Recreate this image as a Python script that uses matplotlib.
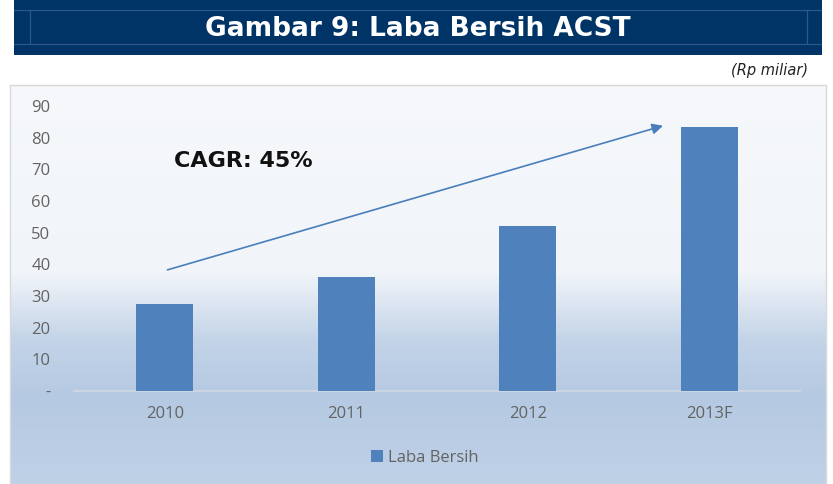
import matplotlib
matplotlib.use('Agg')
import matplotlib.pyplot as plt
import numpy as np
from matplotlib.colors import LinearSegmentedColormap
from matplotlib.patches import Rectangle

years = ['2010', '2011', '2012', '2013F']
laba_bersih = [27.5, 36.0, 52.0, 83.5]
y_ticks = [0, 10, 20, 30, 40, 50, 60, 70, 80, 90]
y_tick_labels = ['-', '10', '20', '30', '40', '50', '60', '70', '80', '90']
cagr_text = 'CAGR: 45%'

W, H = 833, 484
fig = plt.figure(figsize=(W / 100, H / 100), dpi=100)
fig.patch.set_facecolor('white')

# --- header bar ---
hdr = fig.add_axes([14 / W, 1 - 55 / H, (822 - 14) / W, 55 / H])
hdr.set_xlim(0, 808)
hdr.set_ylim(55, 0)
hdr.axis('off')
hdr.add_patch(Rectangle((0, 0), 808, 55, color='#003366'))
line_kw = dict(color='#2b5886', linewidth=0.9)
hdr.axhline(10, **line_kw)
hdr.axhline(44, **line_kw)
hdr.plot([16, 16], [10, 44], **line_kw)
hdr.plot([793, 793], [10, 44], **line_kw)
hdr.text(404, 29, 'Gambar 9: Laba Bersih ACST', color='white', fontsize=19,
         fontweight='bold', ha='center', va='center', family='DejaVu Sans')

fig.text(808 / W, 1 - 70 / H, '(Rp miliar)', ha='right', va='center',
         fontsize=10.5, style='italic', color='#222222', family='DejaVu Sans')

# --- chart background box with gradient ---
bg = fig.add_axes([10 / W, 0, (826 - 10) / W, (484 - 85) / H])
cmap = LinearSegmentedColormap.from_list('bg', [
    (0.0, '#bfd1e7'), (0.22, '#b5c9e2'), (0.36, '#c3d4e8'),
    (0.46, '#dfe7f2'), (0.53, '#f1f5f9'), (1.0, '#f6f8fb')])
grad = np.linspace(0, 1, 256).reshape(-1, 1)
bg.imshow(grad, aspect='auto', cmap=cmap, origin='lower', extent=[0, 1, 0, 1])
bg.set_xlim(0, 1)
bg.set_ylim(0, 1)
bg.set_xticks([])
bg.set_yticks([])
for s in bg.spines.values():
    s.set_color('#d9d9d9')
    s.set_linewidth(1)

# --- main bar chart ---
ax = fig.add_axes([74 / W, 1 - 391 / H, (800 - 74) / W, (391 - 106) / H])
ax.patch.set_alpha(0)
x = np.arange(len(years))
ax.bar(x, laba_bersih, width=0.315, color='#4f81bd', label='Laba Bersih', zorder=3)
ax.set_xlim(-0.5, len(years) - 0.5)
ax.set_ylim(0, 90)
ax.set_yticks(y_ticks)
ax.set_yticklabels(y_tick_labels)
ax.set_xticks(x)
ax.set_xticklabels(years)
for s in ['top', 'right', 'left']:
    ax.spines[s].set_visible(False)
ax.spines['bottom'].set_color('#d0d8e4')
ax.spines['bottom'].set_linewidth(1.2)
ax.tick_params(axis='both', length=0, labelsize=12, colors='#636363')
ax.tick_params(axis='y', pad=17)
ax.tick_params(axis='x', pad=11)
for lbl in ax.get_xticklabels() + ax.get_yticklabels():
    lbl.set_family('Open Sans')

# CAGR arrow, from first bar area to above last bar
ax.annotate('', xy=(2.76, 84), xytext=(0.0, 38),
            arrowprops=dict(arrowstyle='-|>', color='#4a7ebb', lw=1.2,
                            mutation_scale=16), zorder=4)
ax.text(0.05, 72.5, cagr_text, fontsize=16, fontweight='bold', color='#111111',
        ha='left', va='center', family='DejaVu Sans')

leg = ax.legend(loc='center', bbox_to_anchor=(0.483, -0.235), frameon=False,
                handlelength=0.7, handleheight=0.7, handletextpad=0.3,
                prop={'family': 'Open Sans', 'size': 12})
for t in leg.get_texts():
    t.set_color('#636363')

plt.savefig('out.png', dpi=100)
